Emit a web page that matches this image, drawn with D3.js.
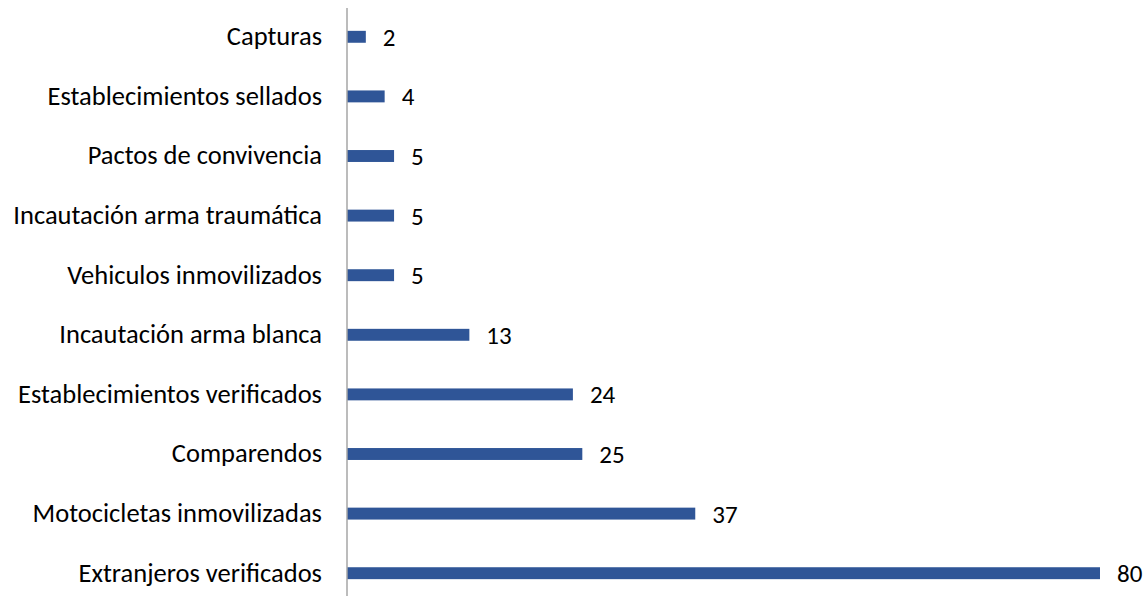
<!DOCTYPE html>
<meta charset="utf-8">
<title>Bar chart</title>
<style>
body {
  margin: 0;
  background: #fff;
}
text {
  font-family: Carlito, Calibri, Lato, sans-serif;
  fill: #000;
}
</style>
<svg></svg>
<script src="https://d3js.org/d3.v7.min.js"></script>
<script>
// categories top to bottom, same order as in the picture
var categories = [
  "Capturas",
  "Establecimientos sellados",
  "Pactos de convivencia",
  "Incautación arma traumática",
  "Vehiculos inmovilizados",
  "Incautación arma blanca",
  "Establecimientos verificados",
  "Comparendos",
  "Motocicletas inmovilizadas",
  "Extranjeros verificados"
];
var values = [2, 4, 5, 5, 5, 13, 24, 25, 37, 80];

var width = 1146,
    height = 596;
var margin = {left: 347, right: 46, top: 7, bottom: -7};

var svg = d3.select("svg")
    .attr("width", width)
    .attr("height", height);

var x = d3.scaleLinear()
    .domain([0, 80])
    .range([margin.left, width - margin.right]);

var y = d3.scaleBand()
    .domain(categories)
    .range([margin.top, height - margin.bottom])
    .paddingInner(0.8)
    .paddingOuter(0.4);

var data = categories.map(function(c, i) { return {name: c, value: values[i]}; });

// bars
svg.append("g")
  .selectAll("rect")
  .data(data)
  .enter().append("rect")
    .attr("x", x(0))
    .attr("y", function(d) { return y(d.name); })
    .attr("width", function(d) { return x(d.value) - x(0); })
    .attr("height", y.bandwidth())
    .attr("fill", "#2F5597");

// value labels
svg.append("g")
  .selectAll("text")
  .data(data)
  .enter().append("text")
    .attr("x", function(d) { return x(d.value) + 17; })
    .attr("y", function(d) { return y(d.name) + y.bandwidth() / 2; })
    .attr("dy", "0.36em")
    .style("font-size", "25px")
    .text(function(d) { return d.value; });

// category axis
var axis = svg.append("g")
    .attr("transform", "translate(" + x(0) + ",0)")
    .call(d3.axisLeft(y).tickSize(0).tickPadding(25));
axis.select(".domain")
    .attr("stroke", "#A6A6A6")
    .attr("stroke-width", 1.5)
    .attr("d", "M0,8V" + height);
axis.selectAll("text")
    .style("font-size", "26.5px")
    .attr("fill", "#000");
</script>
